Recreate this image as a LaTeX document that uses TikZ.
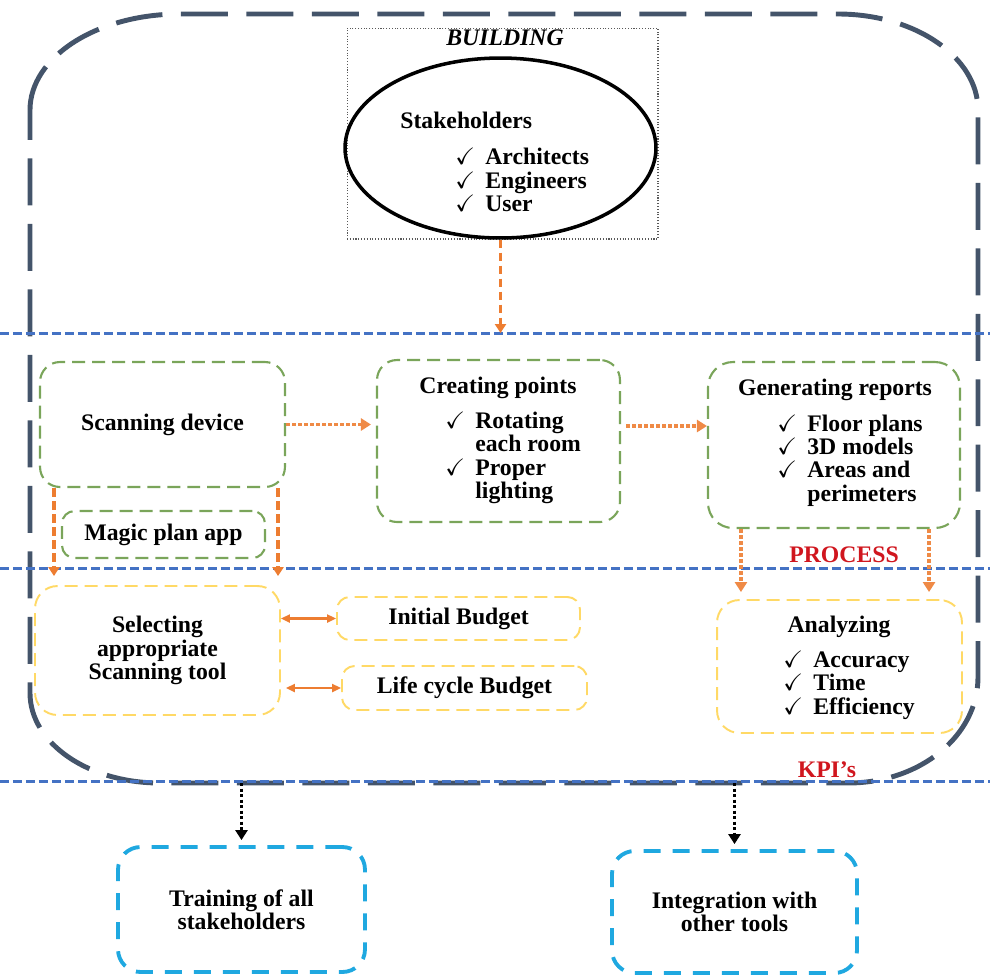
\documentclass[tikz,border=0pt]{standalone}
\usepackage{amssymb}
\usepackage{fontspec}
\setmainfont{Liberation Serif}
\usetikzlibrary{positioning,shapes.geometric,arrows.meta,calc}
\definecolor{frameslate}{HTML}{44546A}
\definecolor{sepblue}{HTML}{4472C4}
\definecolor{procgreen}{HTML}{7AA55A}
\definecolor{kpiyellow}{HTML}{FFD966}
\definecolor{outcyan}{HTML}{1FA8E0}
\definecolor{flow}{HTML}{ED7D31}
\definecolor{labelred}{HTML}{D0161E}
\newcommand{\boxfont}{\fontsize{13.5pt}{13.3pt}\selectfont\bfseries}
\newcommand{\chkitem}[1]{\makebox[0.6cm][l]{$\checkmark$}#1}
\newcommand{\chkcont}[1]{\hspace*{0.6cm}#1}

\begin{document}
\begin{tikzpicture}[x=0.02cm, y=-0.02cm,
    frame/.style={draw=frameslate, line width=2.8pt, dash pattern=on 0.94cm off 0.37cm},
    sepline/.style={draw=sepblue, line width=1.7pt, dash pattern=on 0.18cm off 0.08cm},
    gbox/.style={draw=procgreen, line width=1.2pt, dash pattern=on 0.26cm off 0.14cm, rounded corners=0.4cm, font=\boxfont, align=center, inner sep=2pt},
    ybox/.style={draw=kpiyellow, line width=1.1pt, dash pattern=on 0.26cm off 0.14cm, rounded corners=0.45cm, font=\boxfont, align=center, inner sep=2pt},
    cbox/.style={draw=outcyan, line width=2.2pt, dash pattern=on 0.34cm off 0.24cm, rounded corners=0.45cm, font=\boxfont, align=center, inner sep=2pt},
    txt/.style={font=\boxfont, inner sep=0pt},
    list/.style={font=\boxfont, inner sep=0pt, align=left, anchor=west},
    orgdash/.style={draw=flow, line width=1.8pt, dash pattern=on 0.17cm off 0.09cm, -{Triangle[width=0.22cm,length=0.18cm]}},
    orgdot/.style={draw=flow!90, line width=2pt, dash pattern=on 0.07cm off 0.05cm, -{Triangle[width=0.24cm,length=0.2cm]}},
    dbl/.style={draw=flow, line width=1.2pt, {Triangle[width=0.16cm,length=0.18cm]}-{Triangle[width=0.16cm,length=0.18cm]}},
    kdot/.style={draw=black, line width=1.8pt, dash pattern=on 0.06cm off 0.05cm, -{Triangle[width=0.24cm,length=0.2cm]}}
]
\useasboundingbox (0,0) rectangle (990,975);

% Building frame
\draw[frame] (30,110) .. controls (30,57) and (97,14) .. (180,14) -- (838,14)
    .. controls (915,14) and (978,57) .. (978,110) -- (978,677)
    .. controls (978,736) and (920,783) .. (848,783) -- (160,783)
    .. controls (88,783) and (30,743) .. (30,693) -- cycle;

% Section lines
\coordinate (bldgW) at (0,333);   \coordinate (bldgE) at (990,333);
\coordinate (procW) at (0,568);   \coordinate (procE) at (990,568);
\coordinate (kpiW) at (0,781);    \coordinate (kpiE) at (990,781);
\draw[sepline] (bldgW) -- (bldgE);
\draw[sepline] (procW) -- (procE);
\draw[sepline] (kpiW) -- (kpiE);

% Building
\node[draw=gray!70!black, densely dotted, line width=0.6pt, minimum width=6.22cm, minimum height=4.22cm] (bldg) at (502.5,133.5) {};
\node[font=\fontsize{13.5pt}{13.3pt}\selectfont\bfseries\itshape] (bldgT) at (505,38) {BUILDING};
\node[draw, ellipse, line width=2pt, inner sep=0pt, minimum width=6.22cm, minimum height=3.6cm] (stake) at (500.5,148) {};
\node[txt, anchor=west] (stakeT) at (400,120) {Stakeholders};
\node[list] (stakeL) at (455,180) {\chkitem{Architects}\\ \chkitem{Engineers}\\ \chkitem{User}};

% Process
\node[gbox, minimum width=4.9cm, minimum height=2.5cm] (scan) at (162.5,424.5) {Scanning device};
\node[gbox, rounded corners=0.25cm, minimum width=4.06cm, minimum height=0.94cm] (magic) at (163.5,534.5) {Magic plan app};
\node[gbox, minimum width=4.86cm, minimum height=3.24cm] (creat) at (498.5,441) {};
\node[txt] (creatT) at (498,388) {Creating points};
\node[list] (creatL) at (445,458) {\chkitem{Rotating}\\ \chkcont{each room}\\ \chkitem{Proper}\\ \chkcont{lighting}};
\node[gbox, rounded corners=0.5cm, minimum width=5.04cm, minimum height=3.32cm] (gen) at (834,445) {};
\node[txt] (genT) at (835,390) {Generating reports};
\node[list] (genL) at (777,460.5) {\chkitem{Floor plans}\\ \chkitem{3D models}\\ \chkitem{Areas and}\\ \chkcont{perimeters}};
\node[txt, text=labelred] (procT) at (844,555) {PROCESS};

% KPI's
\node[ybox, minimum width=4.9cm, minimum height=2.58cm] (sel) at (157.5,650.5) {Selecting\\ appropriate\\ Scanning tool};
\node[ybox, rounded corners=0.25cm, minimum width=4.86cm, minimum height=0.86cm] (init) at (458.5,618.5) {Initial Budget};
\node[ybox, rounded corners=0.25cm, minimum width=4.9cm, minimum height=0.88cm] (life) at (464.5,688) {Life cycle Budget};
\node[ybox, minimum width=4.9cm, minimum height=2.66cm] (anal) at (839.5,666.5) {};
\node[txt] (analT) at (839,627) {Analyzing};
\node[list] (analL) at (783,685) {\chkitem{Accuracy}\\ \chkitem{Time}\\ \chkitem{Efficiency}};
\node[txt, text=labelred] (kpiT) at (827,770) {KPI’s};

% Outcomes
\node[cbox, minimum width=4.94cm, minimum height=2.5cm] (train) at (241.5,909.5) {Training of all\\ stakeholders};
\node[cbox, minimum width=4.9cm, minimum height=2.44cm] (integ) at (734.5,912) {Integration with\\ other tools};

% Arrows
\draw[orgdash] (stake.south) -- (stake.south |- bldgW);
\draw[orgdot, shorten >=0.1cm] (scan.east) -- (scan.east -| creat.west);
\draw[orgdot, shorten <=0.1cm] ([yshift=0.3cm]creat.east) -- ([yshift=0.3cm]creat.east -| gen.west);
\draw[orgdash, shorten >=0.18cm] ([xshift=0.3cm]scan.south west) -- ([xshift=0.3cm]scan.south west |- sel.north);
\draw[orgdash, shorten >=0.18cm] ([xshift=-0.16cm]scan.south east) -- ([xshift=-0.16cm]scan.south east |- sel.north);
\draw[orgdot, shorten >=0.14cm] ([xshift=0.68cm]gen.south west) -- ([xshift=0.68cm]gen.south west |- anal.north);
\draw[orgdot, shorten >=0.14cm] ([xshift=-0.64cm]gen.south east) -- ([xshift=-0.64cm]gen.south east |- anal.north);
\draw[dbl] (init.west -| sel.east) -- (init.west);
\draw[dbl, shorten <=0.1cm] (life.west -| sel.east) -- (life.west);
\draw[kdot, shorten <=0.04cm, shorten >=0.1cm] (train.north |- kpiW) -- (train.north);
\draw[kdot, shorten <=0.04cm, shorten >=0.1cm] (integ.north |- kpiW) -- (integ.north);
\end{tikzpicture}
\end{document}
